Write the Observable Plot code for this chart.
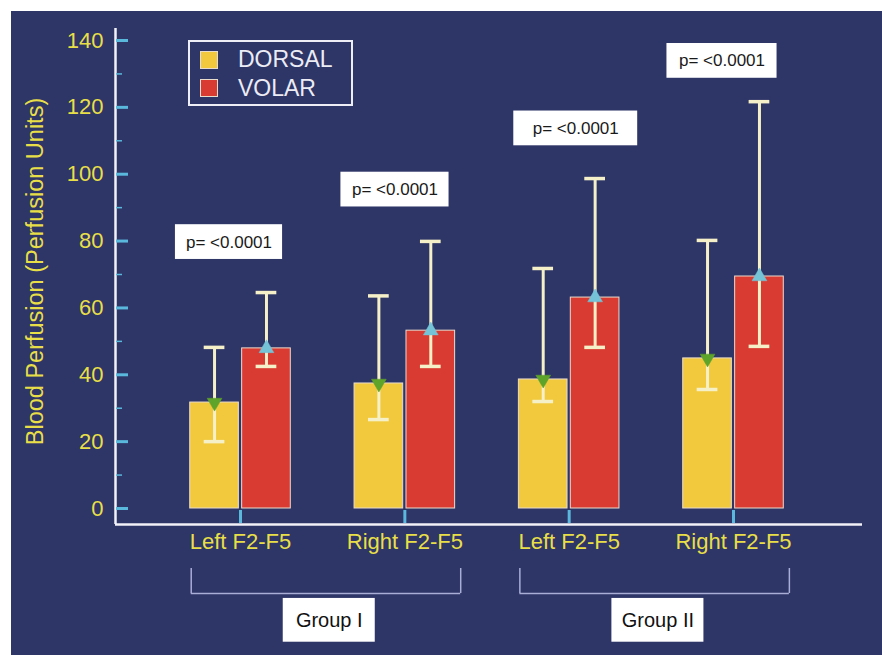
<!DOCTYPE html>
<html>
<head>
<meta charset="utf-8">
<script src="https://cdn.jsdelivr.net/npm/d3@7"></script>
<script src="https://cdn.jsdelivr.net/npm/@observablehq/plot@0.6"></script>
<style>
  html, body { margin: 0; padding: 0; background: #ffffff; }
  #wrap { position: absolute; left: 11px; top: 11px; width: 871px; height: 644px; font-family: "Liberation Sans", Arial, sans-serif; }
  #legend { position: absolute; left: 177px; top: 29px; width: 165px; height: 66px; box-sizing: border-box; border: 2.5px solid #eeeef6; }
  .lg-row { position: absolute; left: 10px; display: flex; align-items: center; }
  .lg-sw { width: 18px; height: 18px; box-sizing: border-box; border: 1px solid #e8dccc; margin-right: 20px; }
  .lg-tx { color: #ececf5; font-size: 23px; line-height: 23px; }
</style>
</head>
<body>
<div id="wrap"></div>
<script>
// ---- data ----
const categories = ["Left F2-F5", "Right F2-F5", "Left F2-F5", "Right F2-F5"];
const seriesNames = ["DORSAL", "VOLAR"];
const dorsalMean  = [31.7, 37.4, 38.6, 44.9];
const dorsalLower = [20.0, 26.6, 32.0, 35.6];
const dorsalUpper = [48.2, 63.6, 71.8, 80.2];
const volarMean   = [47.9, 53.2, 63.1, 69.4];
const volarLower  = [42.5, 42.5, 48.2, 48.5];
const volarUpper  = [64.6, 79.9, 98.7, 121.7];
const pLabels = ["p= <0.0001", "p= <0.0001", "p= <0.0001", "p= <0.0001"];
const pY = [79.7, 95.4, 113.7, 133.9];
const groupNames = ["Group I", "Group II"];
const groupMembers = [[0, 1], [2, 3]];
const yTicksMajor = [0, 20, 40, 60, 80, 100, 120, 140];
const yTicksMinor = [10, 30, 50, 70, 90, 110, 130];
const yTitle = "Blood Perfusion (Perfusion Units)";

// ---- style / layout ----
const navy = "#2e3567", yellowTxt = "#e8df48", cream = "#f5f0c8", cyan = "#5ab8dc";
const barColors = {DORSAL: "#f2c93c", VOLAR: "#d93b32"};
const W = 871, H = 644, mL = 104, mR = 20, mT = 17, mB = 131;
const frameW = W - mL - mR, frameH = H - mT - mB;
const off = {DORSAL: -0.158, VOLAR: 0.158};
const halfBar = 0.148, halfCap = 0.063;
const pOffX = [-0.07, -0.06, 0.04, -0.07];
const pHalfW = [0.326, 0.329, 0.377, 0.335];
const pHalfH = 5.2;

const rows = [];
categories.forEach((c, i) => {
  rows.push({i, series: "DORSAL", mean: dorsalMean[i], lo: dorsalLower[i], hi: dorsalUpper[i], cx: i + off.DORSAL});
  rows.push({i, series: "VOLAR", mean: volarMean[i], lo: volarLower[i], hi: volarUpper[i], cx: i + off.VOLAR});
});
const pRows = pLabels.map((t, i) => ({t, x: i + pOffX[i], y: pY[i], hw: pHalfW[i]}));
const gRows = groupNames.map((g, k) => {
  const a = Math.min(...groupMembers[k]), b = Math.max(...groupMembers[k]);
  return {g, x1: a - 0.3, x2: b + 0.34, mid: (a + b) / 2 + 0.04};
});

const chart = Plot.plot({
  width: W, height: H,
  marginLeft: mL, marginRight: mR, marginTop: mT, marginBottom: mB,
  style: {background: navy, overflow: "visible", fontFamily: "'Liberation Sans', Arial, sans-serif"},
  x: {type: "linear", domain: [-0.7607, 3.785], axis: null},
  y: {domain: [-4.786, 143.59], axis: null},
  marks: [
    // bars
    Plot.rect(rows, {x1: d => d.cx - halfBar, x2: d => d.cx + halfBar, y1: 0, y2: "mean",
      fill: d => barColors[d.series], stroke: "#eadccd", strokeWidth: 1}),
    // error bars
    Plot.ruleX(rows, {x: "cx", y1: "lo", y2: "hi", stroke: cream, strokeWidth: 3}),
    Plot.ruleY(rows, {y: "hi", x1: d => d.cx - halfCap, x2: d => d.cx + halfCap, stroke: cream, strokeWidth: 3.5}),
    Plot.ruleY(rows, {y: "lo", x1: d => d.cx - halfCap, x2: d => d.cx + halfCap, stroke: cream, strokeWidth: 3.5}),
    // markers
    Plot.dot(rows.filter(d => d.series === "DORSAL"), {x: "cx", y: "mean", symbol: "triangle", rotate: 180, r: 5.5, fill: "#5ea32a", stroke: "#5ea32a", strokeWidth: 0.5}),
    Plot.dot(rows.filter(d => d.series === "VOLAR"), {x: "cx", y: "mean", symbol: "triangle", r: 5.5, fill: "#74c3d6", stroke: "#74c3d6", strokeWidth: 0.5}),
    // axes lines
    Plot.ruleX([-0.7607], {stroke: "#f2f2f8", strokeWidth: 2.5}),
    Plot.ruleY([-4.786], {stroke: "#f2f2f8", strokeWidth: 2.5}),
    // y ticks
    Plot.tickY(yTicksMajor, {stroke: cyan, strokeWidth: 3, insetLeft: 1, insetRight: frameW - 13}),
    Plot.tickY(yTicksMinor, {stroke: cyan, strokeWidth: 1.5, insetLeft: 1, insetRight: frameW - 7}),
    Plot.axisY({ticks: yTicksMajor, tickSize: 0, tickPadding: 12, fontSize: 22, fill: yellowTxt, label: null}),
    Plot.text([yTitle], {frameAnchor: "left", rotate: -90, dx: -80, dy: -5, textAnchor: "middle", fontSize: 23.5, fill: yellowTxt}),
    // x ticks & labels
    Plot.tickX([0, 1, 2, 3], {stroke: cyan, strokeWidth: 3, insetTop: frameH - 14, insetBottom: 1}),
    Plot.axisX({ticks: [0, 1, 2, 3], tickFormat: i => categories[i], tickSize: 0, tickPadding: 9, fontSize: 22, fill: yellowTxt, label: null}),
    // p-value boxes
    Plot.rect(pRows, {x1: d => d.x - d.hw, x2: d => d.x + d.hw, y1: d => d.y - pHalfH, y2: d => d.y + pHalfH, fill: "#ffffff"}),
    Plot.text(pRows, {x: "x", y: "y", text: "t", fontSize: 17, fill: "#1a1a1a"}),
    // group brackets
    Plot.ruleY(gRows, {y: -25.43, x1: "x1", x2: "x2", stroke: "#a9aed6", strokeWidth: 1.5}),
    Plot.ruleX(gRows, {x: "x1", y1: -17.95, y2: -25.43, stroke: "#a9aed6", strokeWidth: 1.5}),
    Plot.ruleX(gRows, {x: "x2", y1: -17.95, y2: -25.43, stroke: "#a9aed6", strokeWidth: 1.5}),
    Plot.rect(gRows, {x1: d => d.mid - 0.28, x2: d => d.mid + 0.28, y1: -26.9, y2: -40.0, fill: "#ffffff"}),
    Plot.text(gRows, {x: "mid", y: -33.4, text: "g", fontSize: 20, fill: "#111111"})
  ]
});

const wrap = document.getElementById("wrap");
wrap.appendChild(chart);

// legend
const legend = document.createElement("div");
legend.id = "legend";
seriesNames.forEach((s, k) => {
  const row = document.createElement("div");
  row.className = "lg-row";
  row.style.top = (6 + k * 28.5) + "px";
  const sw = document.createElement("div");
  sw.className = "lg-sw";
  sw.style.background = barColors[s];
  const tx = document.createElement("span");
  tx.className = "lg-tx";
  tx.textContent = s;
  row.appendChild(sw); row.appendChild(tx);
  legend.appendChild(row);
});
wrap.appendChild(legend);
</script>
</body>
</html>
